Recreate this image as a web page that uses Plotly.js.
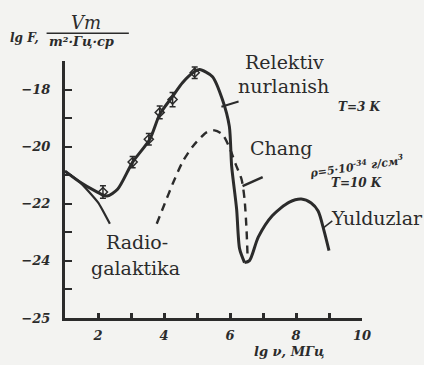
<!DOCTYPE html>
<html>
<head>
<meta charset="utf-8">
<script src="https://cdn.plot.ly/plotly-3.0.1.min.js"></script>
<style>
html,body{margin:0;padding:0;background:#f3f3f1;}
#chart{width:424px;height:365px;}
</style>
</head>
<body>
<div id="chart"></div>
<script>
// ---- data ----
// relic radiation + galaxies (solid), lg nu vs lg F
const relic_x = [1.0, 1.45, 1.91, 2.27, 2.6, 3.05, 3.57, 3.87, 4.26, 4.56, 4.93, 5.08, 5.47, 5.77, 5.98, 6.05, 6.2, 6.29, 6.44];
const relic_y = [-20.86, -21.24, -21.55, -21.73, -21.48, -20.54, -19.74, -18.87, -18.24, -17.76, -17.37, -17.30, -17.55, -18.35, -19.29, -20.68, -22.18, -23.57, -24.06];
// stars (solid)
const stars_x = [6.44, 6.59, 6.86, 7.28, 7.8, 8.16, 8.46, 8.67, 8.85, 9.0];
const stars_y = [-24.06, -23.99, -23.16, -22.42, -21.94, -21.83, -21.97, -22.25, -22.95, -23.64];
// radio galaxies (solid)
const radio_x = [1.0, 1.45, 2.0, 2.36];
const radio_y = [-20.86, -21.24, -21.95, -22.70];
// dust "Chang" (dashed)
const dust_x = [3.78, 4.02, 4.26, 4.56, 4.87, 5.29, 5.53, 5.77, 5.98, 6.17, 6.35, 6.44, 6.5, 6.53];
const dust_y = [-22.70, -22.0, -21.31, -20.54, -19.99, -19.50, -19.43, -19.57, -20.02, -20.61, -21.14, -21.83, -22.88, -23.75];
// observed points
const obs_x = [2.15, 3.05, 3.54, 3.87, 4.26, 4.93];
const obs_y = [-21.59, -20.54, -19.74, -18.80, -18.35, -17.41];
const obs_err = [0.22, 0.2, 0.2, 0.22, 0.25, 0.2];
// ticks
const x_ticks = [2, 4, 6, 8, 10];
const x_ticktext = ["2", "4", "6", "8", "10"];
const y_ticks = [-18, -20, -22, -24, -26];
const y_ticktext = ["−18", "−20", "−22", "−24", "−25"];

const ink = '#2b2b2b';
const serif = 'DejaVu Serif';
const hand = 'DejaVu Serif';

const traces = [
  {x: relic_x, y: relic_y, mode: 'lines', line: {color: ink, width: 3, shape: 'spline', smoothing: 0.7}, hoverinfo: 'skip'},
  {x: stars_x, y: stars_y, mode: 'lines', line: {color: ink, width: 3, shape: 'spline', smoothing: 0.8}, hoverinfo: 'skip'},
  {x: radio_x, y: radio_y, mode: 'lines', line: {color: ink, width: 2.2, shape: 'spline', smoothing: 0.5}, hoverinfo: 'skip'},
  {x: dust_x, y: dust_y, mode: 'lines', line: {color: ink, width: 2.4, dash: '8px,6px', shape: 'spline', smoothing: 0.7}, hoverinfo: 'skip'},
  {x: obs_x, y: obs_y, mode: 'markers', marker: {symbol: 'diamond-open', size: 7, color: ink, line: {width: 1.5, color: ink}},
   error_y: {type: 'data', array: obs_err, color: ink, thickness: 1.5, width: 3}, hoverinfo: 'skip'}
];

const tickFont = {family: hand, size: 13, color: ink, style: 'italic', weight: 'bold'};

const pa = (o) => Object.assign({xref: 'paper', yref: 'paper', showarrow: false, xanchor: 'center', yanchor: 'middle'}, o);
const da = (o) => Object.assign({showarrow: false, xanchor: 'center', yanchor: 'middle'}, o);
const big = {family: serif, size: 19, color: ink};

const layout = {
  width: 424, height: 365,
  margin: {l: 65, r: 62, t: 61, b: 47},
  paper_bgcolor: '#f3f3f1', plot_bgcolor: '#f3f3f1',
  showlegend: false,
  xaxis: {
    range: [1, 10], showgrid: false, zeroline: false,
    showline: true, linecolor: ink, linewidth: 2.5,
    ticks: 'inside', ticklen: 5, tickwidth: 3, tickcolor: ink,
    tickvals: x_ticks, ticktext: x_ticktext, tickfont: tickFont, ticklabelstandoff: 4,
    minor: {dtick: 1, tick0: 0, ticks: 'inside', ticklen: 5, tickwidth: 3, tickcolor: ink}
  },
  yaxis: {
    range: [-26, -17], showgrid: false, zeroline: false,
    showline: true, linecolor: ink, linewidth: 3,
    ticks: 'inside', ticklen: 7, tickwidth: 2, tickcolor: ink,
    tickvals: y_ticks, ticktext: y_ticktext, tickfont: tickFont, ticklabelstandoff: 9,
    minor: {dtick: 1, tick0: 0, ticks: 'inside', ticklen: 7, tickwidth: 2, tickcolor: ink}
  },
  shapes: [
    // fraction bar of the y unit
    {type: 'line', xref: 'paper', yref: 'paper', x0: -0.062, x1: 0.215, y0: 1.108, y1: 1.108, line: {color: ink, width: 1.5}},
    // leader lines
    {type: 'line', x0: 5.74, x1: 6.26, y0: -18.6, y1: -18.42, line: {color: ink, width: 2}},
    {type: 'line', x0: 6.38, x1: 6.99, y0: -21.38, y1: -21.07, line: {color: ink, width: 2.5}},
    {type: 'line', x0: 8.82, x1: 9.1, y0: -22.85, y1: -22.6, line: {color: ink, width: 1.5}}
  ],
  annotations: [
    pa({x: 0.071, y: 1.148, text: 'Vm', font: {family: serif, size: 18, color: ink, style: 'italic'}}),
    pa({x: -0.192, y: 1.089, xanchor: 'left', text: 'lg F,', font: {family: hand, size: 12, color: ink, style: 'italic', weight: 'bold'}}),
    pa({x: -0.062, y: 1.074, xanchor: 'left', text: 'm²·Гц·ср', font: {family: hand, size: 13, color: ink, style: 'italic', weight: 'bold'}}),
    pa({x: 0.754, y: -0.132, text: 'lg ν, МГц', font: {family: hand, size: 13, color: ink, style: 'italic', weight: 'bold'}}),
    da({x: 7.65, y: -17.02, text: 'Relektiv', font: big}),
    da({x: 7.62, y: -17.86, text: 'nurlanish', font: big}),
    da({x: 9.93, y: -18.6, text: 'T=3 K', font: {family: hand, size: 12, color: ink, style: 'italic', weight: 'bold'}}),
    da({x: 7.56, y: -20.06, text: 'Chang', font: big}),
    da({x: 9.82, y: -20.68, text: 'ρ=5·10<sup>-34</sup> г/см<sup>3</sup>', textangle: -8,
        font: {family: hand, size: 11, color: ink, style: 'italic', weight: 'bold'}}),
    da({x: 9.82, y: -21.28, text: 'T=10 K', font: {family: hand, size: 12, color: ink, style: 'italic', weight: 'bold'}}),
    da({x: 9.0, y: -22.5, xanchor: 'left', text: 'Yulduzlar', font: big}),
    da({x: 3.18, y: -23.33, text: 'Radio-', font: big}),
    da({x: 3.15, y: -24.24, text: 'galaktika', font: big})
  ]
};

Plotly.newPlot('chart', traces, layout, {staticPlot: true, displayModeBar: false});
</script>
</body>
</html>
